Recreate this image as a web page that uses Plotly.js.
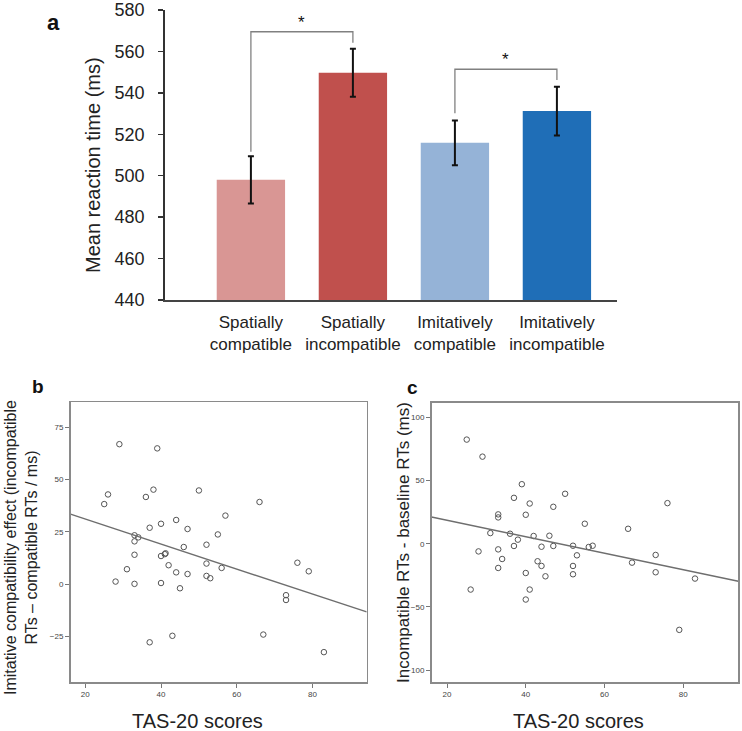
<!DOCTYPE html>
<html>
<head>
<meta charset="utf-8">
<script src="https://cdn.plot.ly/plotly-3.0.1.min.js"></script>
<style>
html,body{margin:0;padding:0;background:#fff;}
#chart{width:742px;height:731px;}
</style>
</head>
<body>
<div id="chart"></div>
<script>
// ---- Panel a data ----
const categories = ['Spatially<br>compatible', 'Spatially<br>incompatible', 'Imitatively<br>compatible', 'Imitatively<br>incompatible'];
const meanRT = [498.0, 549.7, 515.9, 531.2];
const errRT = [11.4, 11.6, 10.8, 11.8];
const barColors = ['#d99694', '#c0504d', '#95b3d7', '#1f6eb7'];
// significance brackets: pair of bar indices, bracket top, left/right leg ends, star label
const bracketPairs = [[0, 1], [2, 3]];
const bracketTop = [569.5, 551.4];
const bracketLegLeft = [511.6, 530.1];
const bracketLegRight = [564.2, 546.2];
const starLabel = ['*', '*'];

// ---- Panel b data ----
const tasB = [29,39,26,25,38,36,50,66,57,37,40,44,47,55,33,34,33,46,52,33,40,41,41.2,42,31,44,47,52,56,52,53,28,33,40,45,76,79,73,73,37,43,67,83];
const effectB = [66.9,64.9,42.9,38.3,45.2,41.7,44.8,39.3,32.8,27.0,28.9,30.7,26.4,23.8,23.4,22.4,20.5,17.8,18.9,14.1,13.5,14.4,14.8,9.1,7.2,5.7,4.9,9.9,7.8,4.0,2.9,1.3,0.2,0.6,-1.9,10.3,6.2,-5.2,-7.5,-27.7,-24.6,-24.0,-32.4];
const fitB = [43.1, -0.597]; // intercept, slope

// ---- Panel c data ----
const tasC = [25,29,39,50,37,41,47,76,33,33,40,55,66,31,36,42,46,38,37,44,47,52,56,57,28,33,34,53,73,43,44,52,67,33,40,45,52,73,83,26,41,40,79];
const effectC = [82.4,68.9,47.1,39.5,36.3,31.8,29.2,32.1,23.2,20.8,22.9,15.8,11.8,8.4,7.9,6.1,6.3,3.2,-1.8,-2.4,-1.8,-1.6,-2.6,-1.6,-6.1,-4.5,-12.1,-9.2,-8.9,-13.9,-17.6,-17.6,-15.0,-19.2,-23.2,-25.8,-24.2,-22.6,-27.6,-36.3,-36.3,-44.2,-68.2];
const fitC = [31.55, -0.652];

const xTicksScatter = [20, 40, 60, 80];
const yTicksB = [-25, 0, 25, 50, 75];
const yTicksC = [-100, -50, 0, 50, 100];
const xRangeB = [16.1, 94.3];
const xRangeC = [16.05, 94.0];

const FONT = 'Liberation Sans, Arial, sans-serif';
const idx = categories.map((_, i) => i);

const traces = [];
traces.push({
  type: 'bar', x: idx, y: meanRT, xaxis: 'x', yaxis: 'y',
  width: 0.67,
  marker: {color: barColors, line: {width: 0}},
  error_y: {type: 'data', array: errRT, visible: true, color: '#111', thickness: 2, width: 3},
  hoverinfo: 'none', showlegend: false
});
bracketPairs.forEach((p, k) => {
  traces.push({
    type: 'scatter', mode: 'lines', xaxis: 'x', yaxis: 'y',
    x: [p[0], p[0], p[1], p[1]],
    y: [bracketLegLeft[k], bracketTop[k], bracketTop[k], bracketLegRight[k]],
    line: {color: '#808080', width: 1.3}, cliponaxis: false, showlegend: false, hoverinfo: 'none'
  });
});

function scatterPanel(xs, ys, fit, xr, ax, ay) {
  traces.push({
    type: 'scatter', mode: 'markers', x: xs, y: ys, xaxis: ax, yaxis: ay,
    marker: {symbol: 'circle-open', size: 5.5, color: '#555', line: {width: 1, color: '#555'}},
    showlegend: false, hoverinfo: 'none'
  });
  traces.push({
    type: 'scatter', mode: 'lines', xaxis: ax, yaxis: ay,
    x: [xr[0], xr[1]], y: [fit[0] + fit[1] * xr[0], fit[0] + fit[1] * xr[1]],
    line: {color: '#6e6e6e', width: 1.4}, showlegend: false, hoverinfo: 'none'
  });
}
scatterPanel(tasB, effectB, fitB, xRangeB, 'x2', 'y2');
scatterPanel(tasC, effectC, fitC, xRangeC, 'x3', 'y3');

const scatterX = (dom, rng, anchor) => ({
  domain: dom, range: rng, anchor: anchor, tickvals: xTicksScatter,
  showline: true, mirror: true, linecolor: '#8a8a8a', linewidth: 1.5,
  ticks: 'outside', ticklen: 4, tickwidth: 1, tickcolor: '#777',
  tickfont: {size: 8, color: '#444', family: FONT},
  showgrid: false, zeroline: false, fixedrange: true
});
const scatterY = (dom, rng, anchor, tv) => ({
  domain: dom, range: rng, anchor: anchor, tickvals: tv,
  showline: true, mirror: true, linecolor: '#8a8a8a', linewidth: 1.5,
  ticks: 'outside', ticklen: 4, tickwidth: 1, tickcolor: '#777',
  tickfont: {size: 8, color: '#444', family: FONT},
  showgrid: false, zeroline: false, fixedrange: true
});

function pa(text, px, py, size, extra) {
  return Object.assign({text: text, xref: 'paper', yref: 'paper', x: px / 742, y: 1 - py / 731,
    xanchor: 'center', yanchor: 'middle', showarrow: false,
    font: {size: size, color: '#222', family: FONT}}, extra || {});
}
const annotations = [
  pa('<b>a</b>', 53, 22, 22, {font: {size: 22, color: '#111', family: FONT}}),
  pa('<b>b</b>', 38, 386, 19, {font: {size: 19, color: '#111', family: FONT}}),
  pa('<b>c</b>', 412, 387, 19, {font: {size: 19, color: '#111', family: FONT}}),
  pa('Mean reaction time (ms)', 93, 165, 20, {textangle: -90}),
  pa('Imitative compatibility effect (incompatible<br>RTs \u2013 compatible RTs / ms)', 21, 548, 16, {textangle: -90}),
  pa('Incompatible RTs - baseline RTs (ms)', 403, 543, 17, {textangle: -90}),
  pa('TAS-20 scores', 197, 721, 20),
  pa('TAS-20 scores', 578, 721, 20)
];
bracketPairs.forEach((p, k) => {
  annotations.push({text: starLabel[k], xref: 'x', yref: 'y', x: (p[0] + p[1]) / 2, y: bracketTop[k] + 4.5,
    xanchor: 'center', yanchor: 'middle',
    showarrow: false, font: {size: 17, color: '#111', family: FONT}});
});

const layout = {
  width: 742, height: 731, margin: {l: 0, r: 0, t: 0, b: 0},
  paper_bgcolor: '#fff', plot_bgcolor: 'rgba(0,0,0,0)',
  font: {family: FONT, color: '#222'},
  showlegend: false,
  xaxis: {
    domain: [164.6/742, 617.3/742], range: [-0.846, 3.592], anchor: 'y',
    tickvals: idx, ticktext: categories, ticks: '', ticklabelstandoff: 6,
    tickfont: {size: 17, color: '#222', family: FONT},
    showline: true, linecolor: '#444', linewidth: 1.5,
    showgrid: false, zeroline: false, fixedrange: true
  },
  yaxis: {
    domain: [1 - 300/731, 1 - 10/731], range: [440, 580], anchor: 'x', dtick: 20, tick0: 440,
    ticks: 'outside', ticklen: 5, tickwidth: 1.5, tickcolor: '#333', ticklabelstandoff: 10,
    tickfont: {size: 18, color: '#222', family: FONT},
    showline: true, linecolor: '#333', linewidth: 1.5,
    showgrid: false, zeroline: false, fixedrange: true
  },
  xaxis2: scatterX([70.5/742, 366.7/742], xRangeB, 'y2'),
  yaxis2: scatterY([1 - 682.3/731, 1 - 402.3/731], [-46.8, 86.9], 'x2', yTicksB),
  xaxis3: scatterX([431.5/742, 738.3/742], xRangeC, 'y3'),
  yaxis3: scatterY([1 - 682.3/731, 1 - 402.7/731], [-109.7, 111.6], 'x3', yTicksC),
  annotations: annotations
};

Plotly.newPlot('chart', traces, layout, {staticPlot: true, displayModeBar: false});
</script>
</body>
</html>
